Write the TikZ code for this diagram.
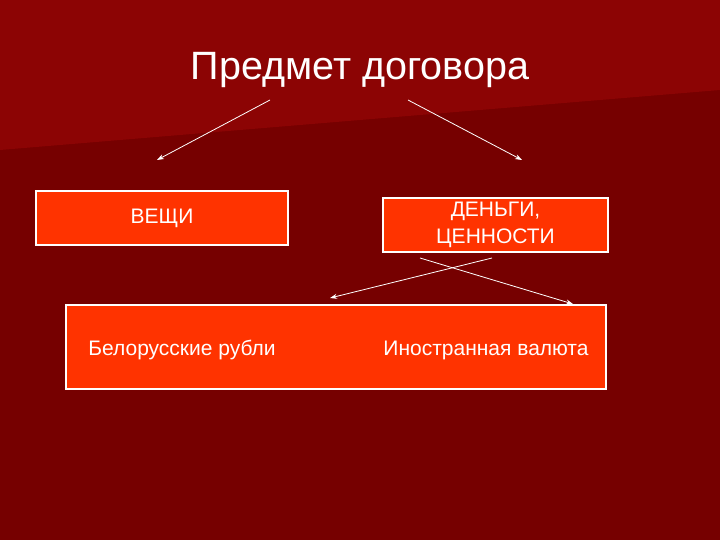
\documentclass[tikz,border=0pt]{standalone}
\usepackage{fontspec}
\usetikzlibrary{arrows.meta}
\setmainfont{Liberation Sans}
\definecolor{bgdark}{HTML}{760000}
\definecolor{bglight}{HTML}{8C0404}
\definecolor{boxfill}{HTML}{FF3300}
\begin{document}
\begin{tikzpicture}[x=1pt,y=-1pt,
  box/.style={draw=white,line width=1.2pt,fill=boxfill,inner sep=0pt},
  lbl/.style={text=white,font=\fontsize{21}{27}\selectfont,align=center},
  arr/.style={draw=white,line width=0.8pt,-{Stealth[length=7pt,width=5pt]}}]
\fill[bgdark] (0,0) rectangle (720,540);
\fill[bglight] (0,0) -- (720,0) -- (720,90) -- (0,150) -- cycle;
\useasboundingbox (0,0) rectangle (720,540);
\node[text=white,font=\fontsize{39.5}{46}\selectfont] (title) at (360,70) {Предмет договора};
\node[box,minimum width=252pt,minimum height=54pt] (veshchi) at (162,218) {};
\node[lbl] at (veshchi) {ВЕЩИ};
\node[box,minimum width=225pt,minimum height=54pt] (dengi) at (495.5,225) {};
\node[lbl] at (dengi) {ДЕНЬГИ,\\ЦЕННОСТИ};
\node[box,minimum width=540pt,minimum height=84pt] (big) at (336,347) {};
\node[lbl] (rub) at (182,350) {Белорусские рубли};
\node[lbl] (val) at (486,350) {Иностранная валюта};
\coordinate (t1) at (270,100);
\coordinate (t2) at (408,100);
\coordinate (a1) at (157,160);
\coordinate (a2) at (522,160);
\coordinate (s1) at (492,258);
\coordinate (s2) at (420,258);
\coordinate (e1) at (330,298);
\coordinate (e2) at (573,304);
\draw[arr] (t1) -- (a1);
\draw[arr] (t2) -- (a2);
\draw[arr] (s1) -- (e1);
\draw[arr] (s2) -- (e2);
\end{tikzpicture}
\end{document}
